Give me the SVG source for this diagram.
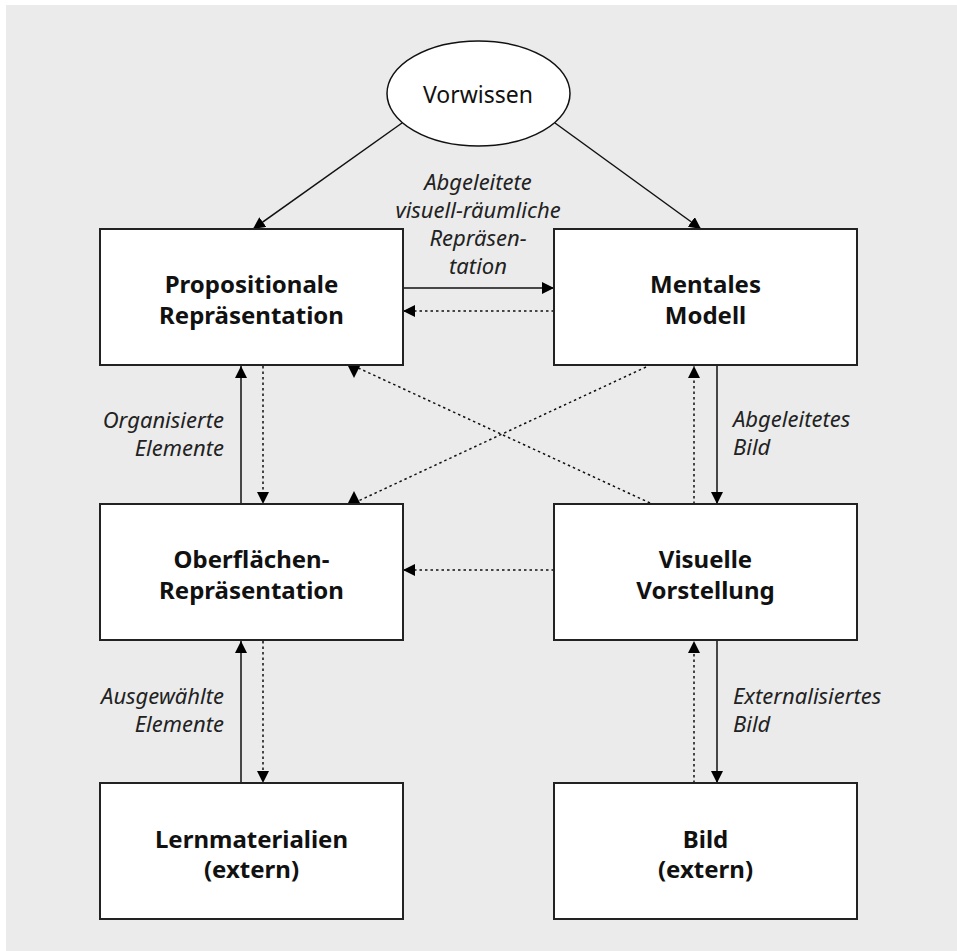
<svg xmlns="http://www.w3.org/2000/svg" width="957" height="951" viewBox="0 0 957 951">
  <defs>
    <style>
      .box { fill: #ffffff; stroke: #222222; stroke-width: 2; }
      .oval { fill: #ffffff; stroke: #111111; stroke-width: 1.5; }
      .title { font-family: "Noto Sans", "Liberation Sans", sans-serif; font-weight: bold; font-size: 24px; fill: #111111; text-anchor: middle; }
      .plain { font-family: "Noto Sans", "Liberation Sans", sans-serif; font-size: 23px; fill: #111111; text-anchor: middle; }
      .label { font-family: "Noto Sans", "Liberation Sans", sans-serif; font-style: italic; font-size: 22px; fill: #222222; }
      .solid { fill: none; stroke: #111111; stroke-width: 1.5; }
      .dotted { fill: none; stroke: #111111; stroke-width: 1.5; stroke-dasharray: 2.5 3; }
    </style>
    <!-- arrowhead following the line direction -->
    <marker id="arrow" markerUnits="userSpaceOnUse" markerWidth="12" markerHeight="12" refX="12" refY="6" orient="auto">
      <path d="M0,0 L12,6 L0,12 z" fill="#000000"/>
    </marker>
    <!-- fixed-orientation heads sitting on a box edge -->
    <marker id="head-down" markerUnits="userSpaceOnUse" markerWidth="12" markerHeight="12" refX="0" refY="6" orient="90">
      <path d="M0,0 L12,6 L0,12 z" fill="#000000"/>
    </marker>
    <marker id="head-up" markerUnits="userSpaceOnUse" markerWidth="12" markerHeight="12" refX="0" refY="6" orient="-90">
      <path d="M0,0 L12,6 L0,12 z" fill="#000000"/>
    </marker>
  </defs>

  <!-- backdrop -->
  <rect x="0" y="0" width="957" height="951" fill="#ffffff"/>
  <rect x="6" y="5" width="951" height="946" fill="#ebebeb"/>

  <!-- connectors -->
  <g id="connectors">
    <!-- from prior knowledge -->
    <line class="solid" x1="402" y1="123" x2="253" y2="229" marker-end="url(#arrow)"/>
    <line class="solid" x1="555" y1="123" x2="701" y2="229" marker-end="url(#arrow)"/>
    <!-- top row -->
    <line class="solid" x1="403" y1="288" x2="554" y2="288" marker-end="url(#arrow)"/>
    <line class="dotted" x1="554" y1="311" x2="403" y2="311" marker-end="url(#arrow)"/>
    <!-- left column, upper -->
    <line class="solid" x1="241" y1="504" x2="241" y2="366" marker-end="url(#arrow)"/>
    <line class="dotted" x1="263" y1="366" x2="263" y2="504" marker-end="url(#arrow)"/>
    <!-- right column, upper -->
    <line class="dotted" x1="694" y1="504" x2="694" y2="366" marker-end="url(#arrow)"/>
    <line class="solid" x1="717" y1="366" x2="717" y2="504" marker-end="url(#arrow)"/>
    <!-- crossing diagonals -->
    <line class="dotted" x1="650" y1="503" x2="354" y2="366" marker-end="url(#head-down)"/>
    <line class="dotted" x1="646" y1="367" x2="354" y2="503" marker-end="url(#head-up)"/>
    <!-- middle row -->
    <line class="dotted" x1="554" y1="570" x2="403" y2="570" marker-end="url(#arrow)"/>
    <!-- left column, lower -->
    <line class="solid" x1="241" y1="783" x2="241" y2="641" marker-end="url(#arrow)"/>
    <line class="dotted" x1="263" y1="641" x2="263" y2="783" marker-end="url(#arrow)"/>
    <!-- right column, lower -->
    <line class="dotted" x1="694" y1="783" x2="694" y2="641" marker-end="url(#arrow)"/>
    <line class="solid" x1="717" y1="641" x2="717" y2="783" marker-end="url(#arrow)"/>
  </g>

  <!-- connector labels -->
  <g id="labels">
    <text class="label" text-anchor="middle" x="478" y="190">Abgeleitete</text>
    <text class="label" text-anchor="middle" x="478" y="218">visuell-räumliche</text>
    <text class="label" text-anchor="middle" x="478" y="246">Repräsen-</text>
    <text class="label" text-anchor="middle" x="478" y="274">tation</text>
    <text class="label" text-anchor="end" x="224" y="428">Organisierte</text>
    <text class="label" text-anchor="end" x="224" y="456">Elemente</text>
    <text class="label" x="733" y="427">Abgeleitetes</text>
    <text class="label" x="733" y="455">Bild</text>
    <text class="label" text-anchor="end" x="224" y="704">Ausgewählte</text>
    <text class="label" text-anchor="end" x="224" y="732">Elemente</text>
    <text class="label" x="733" y="704">Externalisiertes</text>
    <text class="label" x="733" y="732">Bild</text>
  </g>

  <!-- nodes -->
  <g id="vorwissen">
    <ellipse class="oval" cx="478.5" cy="93.5" rx="91.5" ry="52.5"/>
    <text class="plain" x="478" y="103">Vorwissen</text>
  </g>
  <g id="propositionale-repraesentation">
    <rect class="box" x="100" y="229" width="303" height="136"/>
    <text class="title" x="251.5" y="293">Propositionale</text>
    <text class="title" x="251.5" y="324">Repräsentation</text>
  </g>
  <g id="mentales-modell">
    <rect class="box" x="554" y="229" width="303" height="136"/>
    <text class="title" x="705.5" y="293">Mentales</text>
    <text class="title" x="705.5" y="324">Modell</text>
  </g>
  <g id="oberflaechen-repraesentation">
    <rect class="box" x="100" y="504" width="303" height="136"/>
    <text class="title" x="251.5" y="568">Oberflächen-</text>
    <text class="title" x="251.5" y="599">Repräsentation</text>
  </g>
  <g id="visuelle-vorstellung">
    <rect class="box" x="554" y="504" width="303" height="136"/>
    <text class="title" x="705.5" y="568">Visuelle</text>
    <text class="title" x="705.5" y="599">Vorstellung</text>
  </g>
  <g id="lernmaterialien">
    <rect class="box" x="100" y="783" width="303" height="136"/>
    <text class="title" x="251.5" y="848">Lernmaterialien</text>
    <text class="title" x="251.5" y="878">(extern)</text>
  </g>
  <g id="bild">
    <rect class="box" x="554" y="783" width="303" height="136"/>
    <text class="title" x="705.5" y="848">Bild</text>
    <text class="title" x="705.5" y="878">(extern)</text>
  </g>
</svg>
